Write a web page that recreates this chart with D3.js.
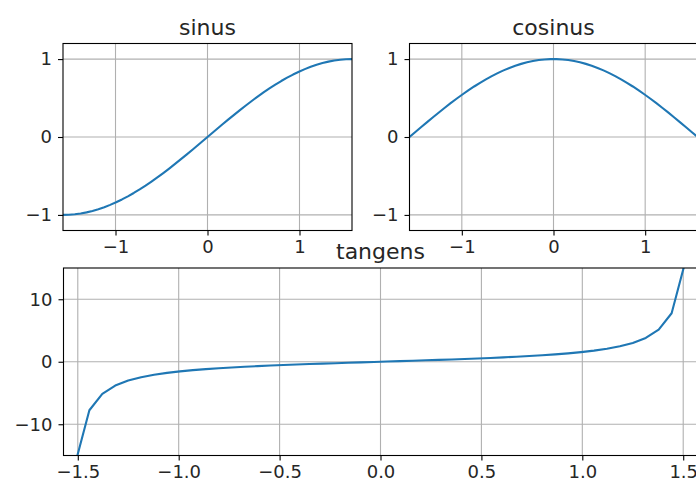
<!DOCTYPE html>
<html>
<head>
<meta charset="utf-8">
<script src="https://cdn.jsdelivr.net/npm/d3@7"></script>
<style>
  html, body { margin: 0; padding: 0; background: #fff; }
  svg { display: block; font-family: "DejaVu Sans", sans-serif; }
</style>
</head>
<body>
<svg id="chart" width="696" height="488"></svg>
<script>
// Sample positions shared by the three curves (50 samples over -π/2 … π/2)
const xSamples = [
  -1.5708, -1.5067, -1.4426, -1.3785, -1.3144, -1.2502, -1.1861, -1.1220, -1.0579, -0.9938,
  -0.9297, -0.8655, -0.8014, -0.7373, -0.6732, -0.6091, -0.5450, -0.4809, -0.4167, -0.3526,
  -0.2885, -0.2244, -0.1603, -0.0962, -0.0321, 0.0321, 0.0962, 0.1603, 0.2244, 0.2885,
  0.3526, 0.4167, 0.4809, 0.5450, 0.6091, 0.6732, 0.7373, 0.8014, 0.8655, 0.9297,
  0.9938, 1.0579, 1.1220, 1.1861, 1.2502, 1.3144, 1.3785, 1.4426, 1.5067, 1.5708
];

const sinValues = [
  -1.0000, -0.9980, -0.9918, -0.9816, -0.9673, -0.9491, -0.9269, -0.9010, -0.8713, -0.8381,
  -0.8014, -0.7615, -0.7184, -0.6723, -0.6235, -0.5721, -0.5184, -0.4625, -0.4048, -0.3454,
  -0.2846, -0.2225, -0.1596, -0.0960, -0.0321, 0.0321, 0.0960, 0.1596, 0.2225, 0.2846,
  0.3454, 0.4048, 0.4625, 0.5184, 0.5721, 0.6235, 0.6723, 0.7184, 0.7615, 0.8014,
  0.8381, 0.8713, 0.9010, 0.9269, 0.9491, 0.9673, 0.9816, 0.9918, 0.9980, 1.0000
];

const cosValues = [
  0.0000, 0.0641, 0.1279, 0.1911, 0.2537, 0.3152, 0.3753, 0.4339, 0.4907, 0.5455,
  0.5981, 0.6482, 0.6957, 0.7403, 0.7818, 0.8202, 0.8551, 0.8866, 0.9144, 0.9385,
  0.9587, 0.9749, 0.9872, 0.9954, 0.9995, 0.9995, 0.9954, 0.9872, 0.9749, 0.9587,
  0.9385, 0.9144, 0.8866, 0.8551, 0.8202, 0.7818, 0.7403, 0.6957, 0.6482, 0.5981,
  0.5455, 0.4907, 0.4339, 0.3753, 0.3152, 0.2537, 0.1911, 0.1279, 0.0641, 0.0000
];

// Tangent samples (the two end points at ±π/2 run off to infinity and are left out)
const tanX = xSamples.slice(1, -1);
const tanValues = [
  -15.58, -7.756, -5.136, -3.813, -3.011, -2.470, -2.077, -1.776, -1.536,
  -1.340, -1.175, -1.033, -0.908, -0.798, -0.698, -0.606, -0.522, -0.443, -0.368,
  -0.297, -0.228, -0.162, -0.097, -0.032, 0.032, 0.097, 0.162, 0.228, 0.297,
  0.368, 0.443, 0.522, 0.606, 0.698, 0.798, 0.908, 1.033, 1.175, 1.340,
  1.536, 1.776, 2.077, 2.470, 3.011, 3.813, 5.136, 7.756, 15.58
];

// Tick labels
const trigTicksX = [-1, 0, 1];
const trigTicksY = [-1, 0, 1];
const tanTicksX = [-1.5, -1.0, -0.5, 0.0, 0.5, 1.0, 1.5];
const tanTicksY = [-10, 0, 10];

const HALF_PI = Math.PI / 2;
const LINE_COLOR = "#1f77b4";
const TICK_FONT = 18;
const TITLE_FONT = 22;

const svg = d3.select("#chart");
let clipId = 0;

function panel(opts) {
  const { left, right, top, bottom, xDomain, yDomain, xTicks, yTicks,
          xFormat, yFormat, xs, ys, title } = opts;
  const x = d3.scaleLinear().domain(xDomain).range([left, right]);
  const y = d3.scaleLinear().domain(yDomain).range([bottom, top]);
  const g = svg.append("g");
  const w = right - left, h = bottom - top;

  // grid
  const grid = g.append("g").attr("stroke", "#b0b0b0").attr("stroke-width", 1.1);
  grid.selectAll("line.gx").data(xTicks).join("line")
    .attr("x1", d => x(d)).attr("x2", d => x(d))
    .attr("y1", top).attr("y2", bottom);
  grid.selectAll("line.gy").data(yTicks).join("line")
    .attr("x1", left).attr("x2", right)
    .attr("y1", d => y(d)).attr("y2", d => y(d));

  // curve
  const id = "clip" + (clipId++);
  svg.append("clipPath").attr("id", id).append("rect")
    .attr("x", left).attr("y", top).attr("width", w).attr("height", h);
  const line = d3.line().x(d => x(d[0])).y(d => y(d[1]));
  g.append("path")
    .datum(xs.map((v, i) => [v, ys[i]]))
    .attr("clip-path", `url(#${id})`)
    .attr("fill", "none")
    .attr("stroke", LINE_COLOR)
    .attr("stroke-width", 2.1)
    .attr("stroke-linejoin", "round")
    .attr("d", line);

  // axes
  const xAxis = d3.axisBottom(x).tickValues(xTicks).tickFormat(xFormat)
    .tickSize(5).tickPadding(5);
  const yAxis = d3.axisLeft(y).tickValues(yTicks).tickFormat(yFormat)
    .tickSize(5).tickPadding(6);
  const gx = g.append("g").attr("transform", `translate(0,${bottom})`).call(xAxis);
  const gy = g.append("g").attr("transform", `translate(${left},0)`).call(yAxis);
  [gx, gy].forEach(a => {
    a.select(".domain").remove();
    a.selectAll(".tick line").attr("stroke", "#000").attr("stroke-width", 1.1);
    a.selectAll(".tick text").attr("fill", "#262626")
      .attr("font-size", TICK_FONT).attr("font-family", "DejaVu Sans");
  });
  gx.selectAll(".tick text").attr("dy", "0.72em");

  // frame
  g.append("rect").attr("x", left).attr("y", top).attr("width", w).attr("height", h)
    .attr("fill", "none").attr("stroke", "#000").attr("stroke-width", 1.1);

  // title
  g.append("text").attr("x", (left + right) / 2).attr("y", top - 9)
    .attr("text-anchor", "middle").attr("font-size", TITLE_FONT)
    .attr("fill", "#262626").text(title);
}

const intFmt = d3.format("d");
panel({
  left: 63, right: 352, top: 43.5, bottom: 230.5,
  xDomain: [-HALF_PI, HALF_PI], yDomain: [-1.2, 1.2],
  xTicks: trigTicksX, yTicks: trigTicksY, xFormat: intFmt, yFormat: intFmt,
  xs: xSamples, ys: sinValues, title: "sinus"
});
panel({
  left: 409.5, right: 697.5, top: 43.5, bottom: 230.5,
  xDomain: [-HALF_PI, HALF_PI], yDomain: [-1.2, 1.2],
  xTicks: trigTicksX, yTicks: trigTicksY, xFormat: intFmt, yFormat: intFmt,
  xs: xSamples, ys: cosValues, title: "cosinus"
});
panel({
  left: 63.5, right: 697.5, top: 268, bottom: 455.5,
  xDomain: [-HALF_PI, HALF_PI], yDomain: [-15, 15],
  xTicks: tanTicksX, yTicks: tanTicksY, xFormat: d3.format(".1f"), yFormat: intFmt,
  xs: tanX, ys: tanValues, title: "tangens"
});
</script>
</body>
</html>
